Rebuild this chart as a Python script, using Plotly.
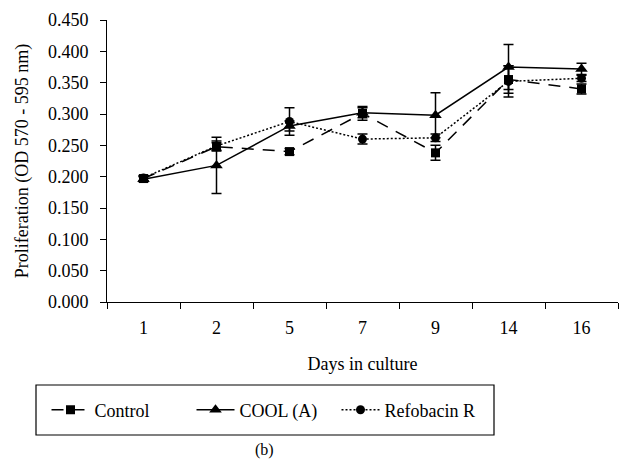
import plotly.graph_objects as go

days = ["1", "2", "5", "7", "9", "14", "16"]

control = [0.197, 0.248, 0.240, 0.301, 0.238, 0.355, 0.340]
control_err = [0.004, 0.006, 0.005, 0.011, 0.012, 0.022, 0.008]

cool = [0.196, 0.218, 0.281, 0.302, 0.298, 0.375, 0.372]
cool_err = [0.004, 0.045, 0.008, 0.008, 0.036, 0.036, 0.009]

refobacin = [0.198, 0.249, 0.288, 0.260, 0.262, 0.352, 0.357]
refobacin_err = [0.004, 0.008, 0.022, 0.008, 0.006, 0.025, 0.005]

y_ticks = [0.0, 0.05, 0.1, 0.15, 0.2, 0.25, 0.3, 0.35, 0.4, 0.45]

FONT = "'Liberation Serif', 'Times New Roman', Times, serif"
W, H = 621, 459
L, R, T, B = 107, 3, 20, 157

fig = go.Figure()

def add(name, y, err, dash, symbol, size):
    fig.add_trace(go.Scatter(
        x=days, y=y, name=name, mode="lines+markers",
        line=dict(color="black", width=1.5, dash=dash),
        marker=dict(symbol=symbol, size=size, color="black"),
        error_y=dict(type="data", array=err, visible=True, color="black",
                     thickness=1.5, width=5),
    ))

add("Control", control, control_err, "12px,9px", "square", 9)
add("COOL (A)", cool, cool_err, "solid", "triangle-up", 11)
add("Refobacin R", refobacin, refobacin_err, "2px,2px", "circle", 9)

plot_w = W - L - R
plot_h = H - T - B

def px(x):
    return (x - L) / plot_w

def py(y):
    return (H - B - y) / plot_h

fig.update_layout(
    width=W, height=H,
    margin=dict(l=L, r=R, t=T, b=B),
    paper_bgcolor="white", plot_bgcolor="white",
    font=dict(family=FONT, size=18, color="black"),
    showlegend=True,
    legend=dict(orientation="h", x=px(264), y=py(410), xanchor="center",
                yanchor="middle", bgcolor="rgba(0,0,0,0)",
                font=dict(family=FONT, size=18), itemwidth=38,
                entrywidth=92, entrywidthmode="pixels",
                tracegroupgap=0),
    shapes=[dict(type="rect", xref="paper", yref="paper",
                 x0=px(36), x1=px(494), y0=py(385), y1=py(435),
                 line=dict(color="black", width=1.2))],
    annotations=[dict(text="(b)", xref="paper", yref="paper",
                      x=px(264), y=py(439), showarrow=False,
                      xanchor="center", yanchor="top",
                      font=dict(family=FONT, size=16))],
)

fig.update_xaxes(
    type="category", range=[-0.5, 6.5],
    showline=True, linecolor="black", linewidth=1,
    ticks="outside", ticklen=6, tickcolor="black", tickson="boundaries",
    ticklabelstandoff=9,
    showgrid=False, zeroline=False,
    title=dict(text="Days in culture", font=dict(family=FONT, size=18), standoff=20),
    tickfont=dict(family=FONT, size=18),
)
fig.update_yaxes(
    range=[0, 0.45], tickvals=y_ticks, tickformat=".3f",
    showline=True, linecolor="black", linewidth=1,
    ticks="outside", ticklen=6, tickcolor="black",
    ticklabelstandoff=8,
    showgrid=False, zeroline=False,
    title=dict(text="Proliferation (OD 570 - 595 nm)", font=dict(family=FONT, size=18), standoff=14),
    tickfont=dict(family=FONT, size=18),
)

fig.write_html("out.html", config={"displayModeBar": False},
               post_script="document.body.style.margin='0';")
